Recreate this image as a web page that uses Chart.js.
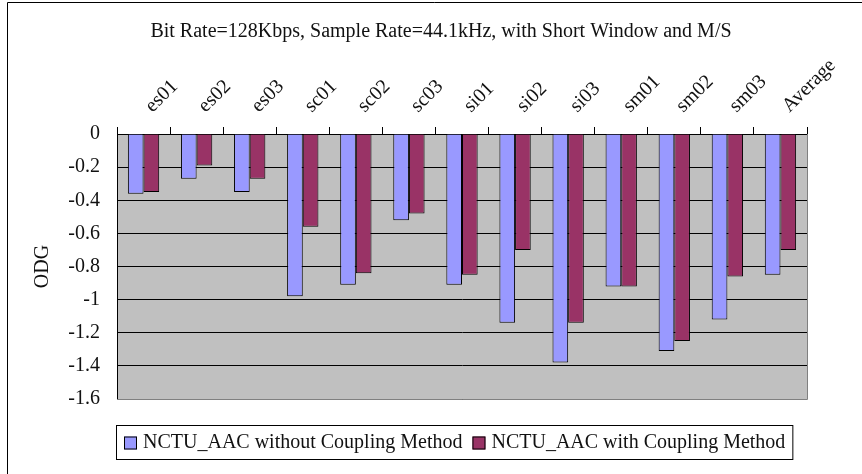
<!DOCTYPE html>
<html>
<head>
<meta charset="utf-8">
<script src="https://cdn.jsdelivr.net/npm/chart.js@4.4.0/dist/chart.umd.min.js"></script>
<style>
html, body { margin: 0; padding: 0; background: #fff; }
</style>
</head>
<body>
<canvas id="odgChart" width="862" height="474"></canvas>
<script>
var titleText = 'Bit Rate=128Kbps, Sample Rate=44.1kHz, with Short Window and M/S';
var categories = ['es01', 'es02', 'es03', 'sc01', 'sc02', 'sc03', 'si01', 'si02', 'si03', 'sm01', 'sm02', 'sm03', 'Average'];
var seriesNames = ['NCTU_AAC without Coupling Method', 'NCTU_AAC with Coupling Method'];
var withoutCoupling = [-0.36, -0.27, -0.35, -0.98, -0.91, -0.52, -0.91, -1.14, -1.38, -0.92, -1.31, -1.12, -0.85];
var withCoupling = [-0.35, -0.19, -0.27, -0.56, -0.84, -0.48, -0.85, -0.70, -1.14, -0.92, -1.25, -0.86, -0.70];
var yTicks = [0, -0.2, -0.4, -0.6, -0.8, -1, -1.2, -1.4, -1.6];
var yTitle = 'ODG';

var serif = "'Liberation Serif', 'Times New Roman', serif";
var textColor = '#111';

// plot background, plot border, outer frame, title, slanted category labels and framed legend
var decor = {
    id: 'decor',
    beforeDraw: function (chart) {
        var ctx = chart.ctx, a = chart.chartArea;
        ctx.save();
        ctx.fillStyle = '#c0c0c0';
        ctx.fillRect(a.left, a.top, a.right - a.left, a.bottom - a.top);
        ctx.restore();
    },
    afterDraw: function (chart) {
        var ctx = chart.ctx, a = chart.chartArea;
        ctx.save();
        // gray plot border right / bottom
        ctx.strokeStyle = '#808080';
        ctx.lineWidth = 1;
        ctx.beginPath();
        ctx.moveTo(Math.round(a.right) + 0.5, a.top);
        ctx.lineTo(Math.round(a.right) + 0.5, Math.round(a.bottom) + 0.5);
        ctx.lineTo(a.left, Math.round(a.bottom) + 0.5);
        ctx.stroke();

        // outer chart frame
        ctx.strokeStyle = '#000';
        ctx.beginPath();
        ctx.moveTo(7.5, 474);
        ctx.lineTo(7.5, 2.5);
        ctx.lineTo(862, 2.5);
        ctx.stroke();

        // title
        ctx.fillStyle = textColor;
        ctx.font = '20px ' + serif;
        ctx.textAlign = 'center';
        ctx.textBaseline = 'middle';
        ctx.fillText(titleText, 441, 32);

        // category labels above the axis, slanted up to the right
        var xs = chart.scales.x;
        ctx.textAlign = 'left';
        ctx.textBaseline = 'alphabetic';
        chart.data.labels.forEach(function (lab, i) {
            ctx.save();
            ctx.translate(xs.getPixelForValue(i) + 9, a.top - 21);
            ctx.rotate(-Math.PI / 4);
            ctx.fillText(lab, 0, 0);
            ctx.restore();
        });

        // legend
        ctx.font = '20px ' + serif;
        ctx.textBaseline = 'middle';
        var ds = chart.data.datasets;
        var box = 13, gapText = 6, gapItem = 10;
        var widths = ds.map(function (d) { return ctx.measureText(d.label).width; });
        var total = 0;
        widths.forEach(function (w, i) { total += box + gapText + w + (i < widths.length - 1 ? gapItem : 0); });
        var x = Math.round(455 - total / 2), cy = 443;
        ctx.strokeStyle = '#000';
        ctx.strokeRect(x - 7.5, 425.5, total + 15, 34);
        ds.forEach(function (d, i) {
            ctx.fillStyle = d.backgroundColor;
            ctx.fillRect(x, cy - 6.5, box, box);
            ctx.strokeStyle = '#000';
            ctx.strokeRect(x + 0.5, cy - 6, box - 1, box - 1);
            ctx.fillStyle = textColor;
            ctx.fillText(d.label, x + box + gapText, cy);
            x += box + gapText + widths[i] + gapItem;
        });
        ctx.restore();
    }
};

var ctx = document.getElementById('odgChart').getContext('2d');
var odgChart = new Chart(ctx, {
    type: 'bar',
    data: {
        labels: categories,
        datasets: [{
            label: seriesNames[0],
            data: withoutCoupling,
            backgroundColor: '#9999ff',
            borderColor: '#000',
            borderWidth: 1
        }, {
            label: seriesNames[1],
            data: withCoupling,
            backgroundColor: '#993366',
            borderColor: '#000',
            borderWidth: 1
        }]
    },
    options: {
        responsive: false,
        animation: false,
        devicePixelRatio: 1,
        layout: { padding: { left: 8, right: 55, top: 60, bottom: 75 } },
        datasets: { bar: { categoryPercentage: 0.59, barPercentage: 1 } },
        font: { family: serif, size: 20 },
        plugins: {
            legend: { display: false },
            title: { display: false },
            tooltip: { enabled: false }
        },
        scales: {
            x: {
                position: 'top',
                offset: true,
                border: { display: true, color: '#000', width: 1 },
                grid: { display: true, drawOnChartArea: false, drawTicks: true, tickLength: 7, color: '#000', offset: true },
                ticks: { display: false, autoSkip: false },
                afterFit: function (s) { s.height = 74; }
            },
            y: {
                min: -1.6,
                max: 0,
                border: { display: true, color: '#000', width: 1 },
                grid: { color: '#000', lineWidth: 1, drawTicks: false },
                ticks: {
                    padding: 17,
                    color: textColor,
                    font: { family: serif, size: 20 },
                    callback: function (v) { return String(v); }
                },
                afterBuildTicks: function (s) {
                    s.ticks = yTicks.map(function (v) { return { value: v }; });
                },
                title: {
                    display: true,
                    text: yTitle,
                    color: textColor,
                    font: { family: serif, size: 20 },
                    padding: { top: 23, bottom: 0 }
                },
                afterFit: function (s) { s.width = 109; }
            }
        }
    },
    plugins: [decor]
});
</script>
</body>
</html>
